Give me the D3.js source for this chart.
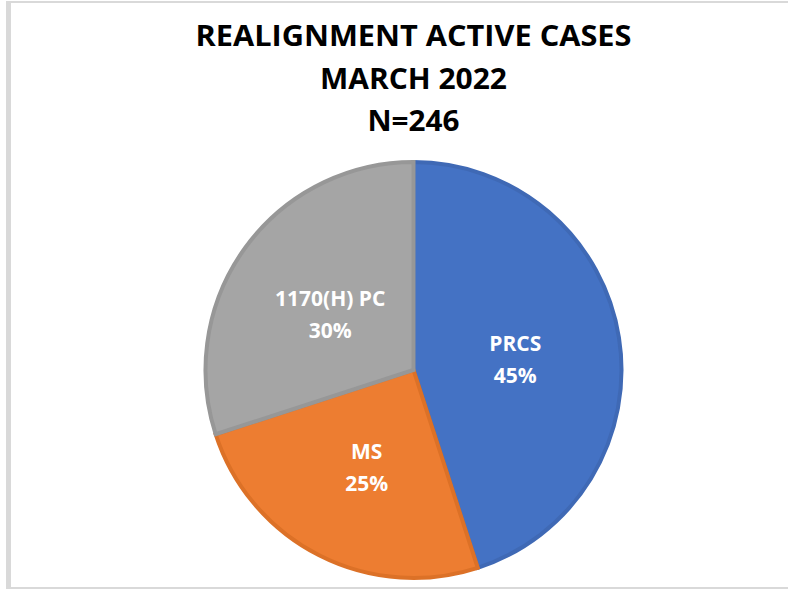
<!DOCTYPE html>
<html>
<head>
<meta charset="utf-8">
<script src="https://cdn.jsdelivr.net/npm/d3@7"></script>
<style>
  body { margin: 0; background: #fff; }
  svg { display: block; font-family: "Open Sans", "Noto Sans", sans-serif; }
</style>
</head>
<body>
<svg id="chart" width="788" height="590"></svg>
<script>
// chart data
const categories = ["PRCS", "MS", "1170(H) PC"];
const shares = [45, 25, 30];
const fills = ["#4472C4", "#ED7D31", "#A5A5A5"];
const edges = ["#3F69B5", "#DC7127", "#979797"];
const titleLines = ["REALIGNMENT ACTIVE CASES", "MARCH 2022", "N=246"];
const titleWidths = [436, 187, 92];

const svg = d3.select('#chart');
const cx = 413.5, cy = 370, radius = 208;

// chart area frame
svg.append('rect').attr('x', 6).attr('y', 1).attr('width', 5).attr('height', 588).attr('fill', '#d9d9d9');
svg.append('rect').attr('x', 6).attr('y', 1).attr('width', 782).attr('height', 2).attr('fill', '#d9d9d9');
svg.append('rect').attr('x', 6).attr('y', 587).attr('width', 782).attr('height', 2).attr('fill', '#d9d9d9');

// title
svg.append('g').selectAll('text').data(titleLines).enter().append('text')
    .attr('x', cx)
    .attr('y', function(d, i) { return 46 + i * 42.5 })
    .attr('text-anchor', 'middle')
    .attr('font-size', 28)
    .attr('font-weight', 'bold')
    .attr('fill', '#000')
    .attr('textLength', function(d, i) { return titleWidths[i] })
    .attr('lengthAdjust', 'spacingAndGlyphs')
    .text(function(d) { return d });

const pie = d3.pie().sort(null).value(function(d) { return d });
const arcs = pie(shares);
const arc = d3.arc().innerRadius(0).outerRadius(radius);
const labelArc = d3.arc().innerRadius(103).outerRadius(103);

const g = svg.append('g').attr('transform', 'translate(' + cx + ',' + cy + ')');

g.selectAll('path').data(arcs).enter().append('path')
    .attr('d', arc)
    .attr('fill', function(d, i) { return fills[i] })
    .attr('stroke', function(d, i) { return edges[i] })
    .attr('stroke-width', 4)
    .attr('stroke-linejoin', 'miter');

// data labels
const labels = g.selectAll('g.lbl').data(arcs).enter().append('g')
    .attr('class', 'lbl')
    .attr('transform', function(d) { return 'translate(' + labelArc.centroid(d) + ')' });

labels.append('text')
    .attr('y', -3)
    .attr('text-anchor', 'middle')
    .attr('font-size', 21)
    .attr('font-weight', 'bold')
    .attr('fill', '#fff')
    .text(function(d, i) { return categories[i] });

labels.append('text')
    .attr('y', 29)
    .attr('text-anchor', 'middle')
    .attr('font-size', 21)
    .attr('font-weight', 'bold')
    .attr('fill', '#fff')
    .text(function(d, i) { return shares[i] + '%' });
</script>
</body>
</html>
